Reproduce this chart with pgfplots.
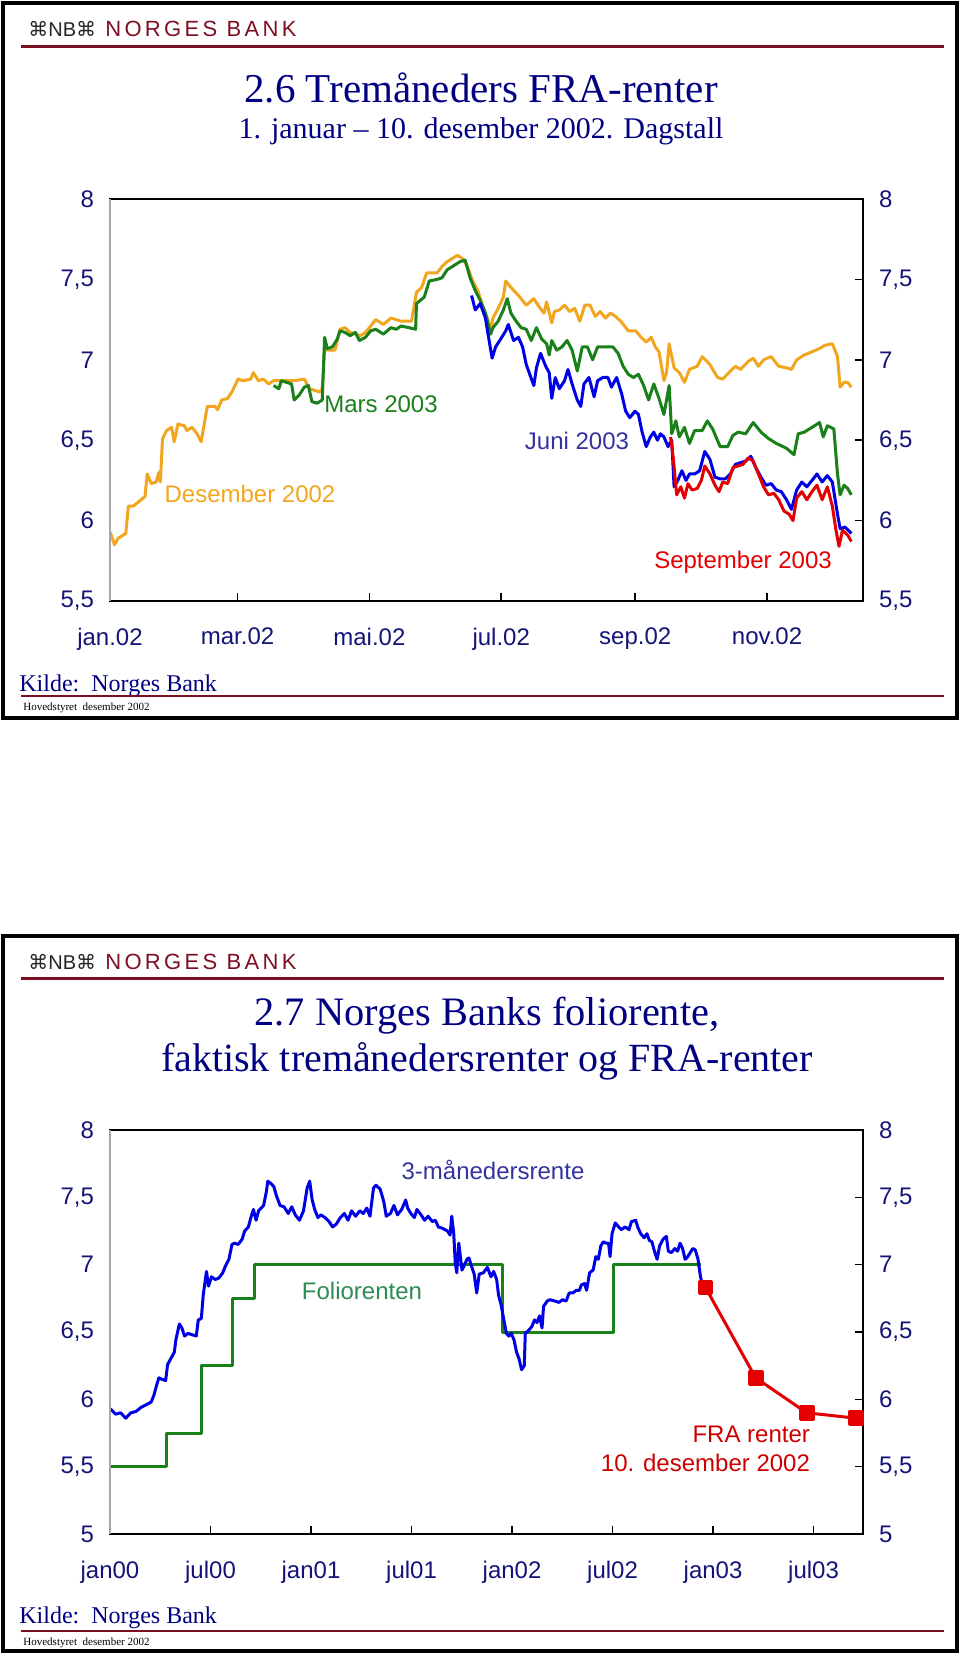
\documentclass[border=0pt]{standalone}
\usepackage{pgfplots}
\pgfplotsset{compat=1.18}
\usepackage{fontspec}
\setmainfont{Liberation Sans}
\newfontfamily\timesf{Liberation Serif}
\newfontfamily\dejavu{DejaVu Sans}
\newfontfamily\nbfont[LetterSpace=15]{Liberation Sans}

\definecolor{navytext}{RGB}{20,20,120}
\definecolor{titlenavy}{RGB}{0,0,128}
\definecolor{nbred}{RGB}{125,15,35}
\definecolor{orangeL}{RGB}{242,166,32}
\definecolor{greenL}{RGB}{26,128,26}
\definecolor{blueL}{RGB}{0,0,230}
\definecolor{redL}{RGB}{228,0,0}
\definecolor{indigoT}{RGB}{51,51,160}
\definecolor{tealT}{RGB}{46,139,87}

\pgfplotsset{
  nbaxis/.style={
    scale only axis, width=376.5pt, anchor=south west,
    axis line style={black, line width=0.75pt},
    tick style={black, line width=0.75pt},
    tick align=inside, major tick length=4pt,
    xtick pos=left, ytick pos=right, yticklabel pos=left,
    ticklabel style={font=\fontsize{12}{14}\selectfont, text=navytext},
    /pgf/number format/assume math mode=true,
    /pgf/number format/use comma,
    yticklabel style={xshift=-4.5pt},
    xticklabel style={yshift=-10pt},
    every axis plot/.append style={line width=1.5pt, line join=round},
  },
  rightlabels/.style={
    scale only axis, width=376.5pt, anchor=south west,
    hide x axis, axis y line*=right,
    axis line style={draw=none}, tick style={draw=none},
    ticklabel style={font=\fontsize{12}{14}\selectfont, text=navytext},
    /pgf/number format/assume math mode=true,
    /pgf/number format/use comma,
    yticklabel style={xshift=4.5pt},
  },
}

\newcommand\nbheader[2]{%
  \node[anchor=west, inner sep=0pt, text=black!85] at (28,#1)
    {\fontsize{10}{12}\selectfont{\dejavu ⌘}NB{\dejavu ⌘}};
  \node[anchor=west, inner sep=0pt, text=nbred] at (105,#1)
    {\fontsize{11}{13}\selectfont\nbfont NORGES BANK};
  \draw[nbred, line width=1.5pt] (21,#2) -- (944,#2);
}
\newcommand\nbfooter[3]{%
  \node[anchor=west, inner sep=0pt, text=titlenavy] at (19,#1)
    {\timesf\fontsize{12}{14}\selectfont Kilde:\ \ Norges Bank};
  \draw[nbred, line width=1pt] (21,#2) -- (944,#2);
  \node[anchor=west, inner sep=0pt, text=black] at (23,#3)
    {\timesf\fontsize{5.5}{7}\selectfont Hovedstyret\ \ desember 2002};
}

\begin{document}
\begin{tikzpicture}
\useasboundingbox (0,0) rectangle (480pt,-827pt);

\begin{scope}[x=0.5pt,y=-0.5pt]
  % upper slide
  \draw[line width=2pt] (3,3) rectangle (957,718);
  \nbheader{29}{46}
  \node[text=titlenavy] at (481,88)
    {\timesf\fontsize{20.5}{24}\selectfont 2.6 Tremåneders FRA-renter};
  \node[text=titlenavy] at (481,131)
    {\timesf\fontsize{15}{18}\selectfont 1. januar – 10. desember 2002. Dagstall};
  \nbfooter{686}{696}{708}
  % lower slide
  \draw[line width=2pt] (3,936) rectangle (957,1651);
  \nbheader{962}{978}
  \node[text=titlenavy] at (487,1016)
    {\timesf\fontsize{20.2}{24}\selectfont 2.7 Norges Banks foliorente,};
  \node[text=titlenavy] at (487,1061)
    {\timesf\fontsize{20}{24}\selectfont faktisk tremånedersrenter og FRA-renter};
  \nbfooter{1618}{1631}{1643}
\end{scope}

% ---------- 2.6: FRA-renter 2002, days since 1 Jan 2002 ----------
\begin{axis}[nbaxis, at={(55pt,-300.5pt)}, height=201pt,
  xmin=0, xmax=348.4, ymin=5.5, ymax=8,
  xtick={0,59,120,181,243,304},
  xticklabels={jan.02,mar.02,mai.02,jul.02,sep.02,nov.02},
  ytick={5.5,6,6.5,7,7.5,8}]
% Desember 2002
\addplot[orangeL] coordinates {
(0,5.93)(2.1,5.85)(3.7,5.89)(7.3,5.92)(8.5,6.09)(10.8,6.09)(14.4,6.13)(16.2,6.15)
(17.2,6.29)(19.1,6.23)(21.4,6.24)(22.6,6.30)(23.3,6.24)(24.3,6.51)(26.2,6.56)(28.5,6.58)
(29.7,6.49)(31.4,6.60)(34.4,6.59)(35.6,6.56)(38.0,6.58)(40.3,6.54)(42.2,6.49)(45.0,6.71)
(48.6,6.71)(49.8,6.69)(51.7,6.75)(54.5,6.76)(56.8,6.81)(59.2,6.88)(61.6,6.87)(65.1,6.88)
(66.3,6.92)(68.7,6.87)(71.0,6.88)(73.4,6.85)(75.7,6.87)(80.5,6.87)(85.2,6.87)(89.9,6.88)
(92.3,6.82)(97.0,6.80)(98.2,6.82)(99.3,7.06)(101.7,7.06)(104.1,7.06)(106.4,7.19)(108.8,7.20)
(111.1,7.17)(115.9,7.15)(118.2,7.17)(120.6,7.21)(122.9,7.25)(126.5,7.22)(130.0,7.26)(134.7,7.24)
(139.5,7.24)(141.8,7.42)(144.2,7.45)(146.5,7.54)(151.3,7.54)(153.6,7.58)(156.0,7.61)(158.4,7.63)
(160.7,7.65)(163.1,7.63)(165.4,7.58)(167.8,7.49)(170.2,7.43)(172.5,7.33)(174.9,7.25)(176.1,7.18)
(177.2,7.26)(179.6,7.32)(182.0,7.39)(183.1,7.49)(185.5,7.45)(189.0,7.40)(192.6,7.34)(196.1,7.38)
(198.5,7.33)(200.8,7.29)(202.0,7.36)(204.4,7.23)(205.6,7.30)(207.9,7.31)(210.3,7.34)(212.7,7.30)
(215.0,7.32)(217.4,7.24)(219.7,7.34)(222.1,7.34)(224.5,7.27)(226.8,7.30)(229.2,7.26)(231.5,7.29)
(233.9,7.27)(236.3,7.24)(239.8,7.18)(243.3,7.18)(245.7,7.14)(248.1,7.11)(250.4,7.14)(252.3,7.08)
(254.0,7.05)(256.3,6.87)(257.5,6.92)(258.7,7.10)(261.0,6.95)(263.4,6.92)(265.8,6.86)(268.1,6.94)
(271.7,6.96)(274.0,7.02)(277.6,6.97)(281.1,6.89)(283.5,6.88)(287.0,6.93)(289.4,6.96)(291.7,6.94)
(295.3,6.99)(297.6,7.01)(300.0,6.96)(302.4,7.00)(305.9,7.02)(309.4,6.96)(313.0,6.95)(315.3,6.94)
(317.7,7.00)(321.2,7.03)(324.8,7.05)(328.3,7.07)(330.7,7.09)(334.2,7.10)(336.6,7.02)(337.8,6.83)
(339.6,6.86)(341.3,6.86)(343.0,6.83)
};
% Mars 2003
\addplot[greenL] coordinates {
(75.7,6.84)(78.1,6.82)(79.3,6.87)(81.6,6.86)(84.0,6.85)(85.2,6.75)(87.5,6.78)(89.9,6.83)
(91.8,6.84)(93.4,6.74)(95.8,6.73)(98.2,6.75)(99.3,7.14)(100.5,7.07)(102.9,7.08)(105.2,7.13)
(106.4,7.18)(108.8,7.17)(111.1,7.15)(113.5,7.17)(115.4,7.12)(118.2,7.14)(120.6,7.18)(122.9,7.19)
(126.5,7.16)(130.0,7.20)(132.4,7.19)(134.7,7.21)(138.3,7.20)(141.4,7.19)(141.8,7.35)(145.4,7.39)
(147.7,7.49)(151.3,7.50)(153.6,7.51)(156.0,7.56)(158.4,7.58)(161.9,7.61)(164.3,7.62)(166.6,7.51)
(169.0,7.43)(171.3,7.37)(173.7,7.29)(176.1,7.16)(177.2,7.20)(179.6,7.24)(182.0,7.31)(183.8,7.38)
(185.5,7.29)(187.9,7.24)(190.2,7.20)(192.6,7.19)(194.9,7.12)(197.3,7.20)(199.7,7.13)(202.0,7.10)
(203.2,7.03)(204.4,7.12)(206.7,7.06)(209.1,7.08)(211.5,7.12)(213.8,7.06)(216.2,6.93)(218.5,7.08)
(220.9,7.08)(223.3,7.00)(225.6,7.08)(229.2,7.08)(232.7,7.08)(235.1,7.04)(237.4,6.96)(239.8,6.91)
(242.2,6.89)(244.5,6.91)(246.9,6.84)(249.2,6.75)(251.6,6.85)(254.0,6.76)(256.3,6.66)(258.7,6.84)
(259.9,6.54)(261.8,6.62)(263.4,6.52)(265.8,6.58)(268.1,6.48)(270.5,6.56)(274.0,6.56)(276.4,6.62)
(278.8,6.57)(282.3,6.46)(285.8,6.46)(288.2,6.53)(290.6,6.55)(294.1,6.54)(297.6,6.61)(301.2,6.55)
(304.7,6.51)(308.3,6.48)(313.0,6.45)(316.5,6.41)(318.4,6.54)(321.2,6.55)(323.6,6.57)(326.0,6.59)
(328.3,6.61)(330.0,6.52)(331.9,6.59)(334.9,6.57)(336.6,6.29)(337.8,6.16)(339.6,6.22)(341.3,6.20)
(343.0,6.16)
};
% Juni 2003
\addplot[blueL] coordinates {
(167.3,7.40)(169.0,7.31)(171.3,7.35)(173.7,7.26)(174.9,7.16)(176.8,7.01)(178.4,7.08)(180.8,7.13)
(183.1,7.18)(184.3,7.22)(186.7,7.12)(189.0,7.14)(190.9,7.08)(192.6,6.97)(194.2,6.91)(196.1,6.84)
(197.3,6.95)(199.2,7.04)(201.6,6.96)(203.2,6.92)(204.4,6.76)(206.0,6.89)(207.9,6.82)(210.3,6.87)
(211.9,6.94)(213.8,6.85)(216.2,6.75)(217.8,6.71)(219.3,6.85)(221.6,6.89)(224.0,6.77)(225.6,6.87)
(228.0,6.89)(230.4,6.89)(232.0,6.83)(234.4,6.89)(236.7,6.79)(238.6,6.68)(240.5,6.64)(242.9,6.68)
(244.5,6.66)(246.2,6.55)(248.1,6.46)(250.0,6.52)(251.6,6.55)(253.3,6.50)(254.7,6.54)(256.3,6.52)
(258.2,6.46)(259.9,6.50)(261.0,6.21)(262.7,6.25)(264.6,6.31)(266.5,6.25)(268.1,6.29)(270.5,6.29)
(272.8,6.31)(275.2,6.43)(277.6,6.38)(279.9,6.27)(282.3,6.26)(284.7,6.26)(287.0,6.29)(289.4,6.35)
(291.7,6.36)(294.1,6.37)(296.5,6.40)(298.8,6.33)(301.2,6.27)(303.5,6.22)(305.9,6.23)(308.3,6.19)
(310.6,6.18)(313.0,6.13)(315.3,6.07)(317.7,6.19)(320.1,6.24)(322.4,6.21)(324.8,6.25)(327.1,6.29)
(329.5,6.24)(331.9,6.28)(334.2,6.24)(336.6,6.04)(337.8,5.95)(340.1,5.96)(343.0,5.92)
};
% September 2003
\addplot[redL] coordinates {
(259.4,6.52)(260.6,6.39)(262.2,6.16)(264.1,6.21)(265.8,6.14)(267.4,6.23)(269.3,6.19)(271.7,6.20)
(273.6,6.25)(275.2,6.34)(277.6,6.29)(279.9,6.22)(281.8,6.18)(283.5,6.24)(285.8,6.23)(288.2,6.33)
(290.6,6.34)(292.9,6.35)(295.3,6.39)(297.6,6.37)(300.0,6.29)(302.4,6.21)(304.7,6.16)(307.1,6.17)
(309.4,6.13)(311.8,6.06)(314.2,6.04)(316.0,6.00)(317.7,6.14)(320.1,6.18)(322.4,6.13)(324.8,6.18)
(327.1,6.22)(329.5,6.13)(331.9,6.21)(334.2,6.09)(335.9,5.94)(337.3,5.84)(338.9,5.94)(341.3,5.91)
(343.0,5.87)
};
\end{axis}
\begin{axis}[rightlabels, at={(55pt,-300.5pt)}, height=201pt,
  xmin=0, xmax=348.4, ymin=5.5, ymax=8, ytick={5.5,6,6.5,7,7.5,8}]
\end{axis}

% ---------- 2.7: foliorente, months since Jan 2000 ----------
\begin{axis}[nbaxis, at={(55pt,-767pt)}, height=202pt,
  xmin=0, xmax=44.95, ymin=5, ymax=8,
  xtick={0,6,12,18,24,30,36,42},
  xticklabels={jan00,jul00,jan01,jul01,jan02,jul02,jan03,jul03},
  ytick={5,5.5,6,6.5,7,7.5,8}]
% Foliorenten
\addplot[greenL, const plot] coordinates {
(0,5.5)(3.4,5.75)(5.45,6.25)(7.3,6.75)(8.65,7.0)(23.4,6.5)(30.05,7.0)(35.3,7.0)
};
% 3-maanedersrente
\addplot[blueL] coordinates {
(0.02,5.93)(0.33,5.89)(0.63,5.90)(0.94,5.86)(1.24,5.90)(1.55,5.91)(1.85,5.94)(2.16,5.96)
(2.46,5.98)(2.62,6.03)(2.77,6.10)(2.92,6.16)(3.07,6.15)(3.32,6.14)(3.44,6.26)(3.62,6.30)
(3.84,6.35)(3.93,6.44)(4.14,6.56)(4.29,6.53)(4.45,6.47)(4.66,6.49)(4.90,6.48)(5.15,6.47)
(5.27,6.59)(5.45,6.60)(5.57,6.78)(5.76,6.95)(5.88,6.84)(6.06,6.91)(6.28,6.89)(6.49,6.90)
(6.73,6.94)(6.89,6.99)(7.10,7.04)(7.28,7.15)(7.44,7.16)(7.65,7.15)(7.89,7.19)(8.04,7.25)
(8.26,7.28)(8.41,7.35)(8.56,7.41)(8.72,7.33)(8.87,7.40)(9.17,7.44)(9.33,7.54)(9.42,7.62)
(9.63,7.60)(9.78,7.58)(9.94,7.51)(10.15,7.44)(10.39,7.43)(10.64,7.38)(10.85,7.43)(11.06,7.37)
(11.31,7.33)(11.55,7.40)(11.77,7.57)(11.92,7.62)(12.07,7.48)(12.22,7.41)(12.41,7.35)(12.59,7.37)
(12.83,7.35)(13.08,7.32)(13.29,7.28)(13.50,7.30)(13.75,7.35)(13.99,7.38)(14.21,7.33)(14.42,7.40)
(14.66,7.36)(14.91,7.40)(15.12,7.38)(15.33,7.42)(15.52,7.36)(15.73,7.57)(15.88,7.59)(16.13,7.56)
(16.34,7.47)(16.49,7.36)(16.74,7.38)(16.95,7.44)(17.16,7.37)(17.41,7.41)(17.65,7.48)(17.77,7.42)
(17.96,7.38)(18.17,7.35)(18.32,7.41)(18.57,7.37)(18.78,7.33)(18.99,7.36)(19.24,7.32)(19.42,7.33)
(19.60,7.28)(19.85,7.27)(20.15,7.25)(20.30,7.22)(20.40,7.36)(20.52,7.23)(20.61,7.01)(20.70,6.94)
(20.82,7.16)(21.01,6.96)(21.13,6.99)(21.31,7.04)(21.43,7.05)(21.55,7.00)(21.74,6.93)(21.89,6.79)
(22.04,6.93)(22.29,6.94)(22.53,6.98)(22.74,6.91)(22.90,6.95)(23.08,6.89)(23.20,6.77)(23.35,6.70)
(23.51,6.59)(23.66,6.49)(23.81,6.47)(23.96,6.49)(24.12,6.44)(24.27,6.35)(24.42,6.30)(24.57,6.22)
(24.73,6.25)(24.79,6.49)(24.97,6.51)(25.18,6.54)(25.34,6.59)(25.49,6.57)(25.64,6.62)(25.79,6.53)
(25.88,6.69)(26.10,6.73)(26.25,6.74)(26.56,6.73)(26.80,6.72)(27.01,6.74)(27.23,6.73)(27.41,6.79)
(27.62,6.79)(27.84,6.81)(28.02,6.81)(28.14,6.85)(28.33,6.86)(28.45,6.81)(28.63,6.94)(28.84,6.96)
(29.00,7.06)(29.15,7.04)(29.30,7.14)(29.45,7.17)(29.61,7.16)(29.76,7.16)(29.85,7.06)(29.97,7.23)
(30.16,7.31)(30.37,7.28)(30.52,7.26)(30.76,7.28)(30.98,7.26)(31.13,7.32)(31.38,7.33)(31.50,7.28)
(31.68,7.23)(31.89,7.20)(32.05,7.23)(32.20,7.18)(32.35,7.17)(32.50,7.10)(32.66,7.04)(32.81,7.14)
(33.02,7.19)(33.21,7.21)(33.33,7.10)(33.51,7.09)(33.72,7.12)(33.88,7.10)(34.03,7.16)(34.18,7.12)
(34.33,7.04)(34.49,7.06)(34.64,7.09)(34.79,7.12)(34.94,7.11)(35.10,7.04)(35.25,6.91)(35.34,6.86)
};
% FRA-renter 10. desember 2002
\addplot[redL, mark=square*, mark size=3.2pt, mark options={solid}] coordinates {
(35.55,6.83)(38.54,6.16)(41.59,5.90)(44.55,5.86)
};
\end{axis}
\begin{axis}[rightlabels, at={(55pt,-767pt)}, height=202pt,
  xmin=0, xmax=44.95, ymin=5, ymax=8, ytick={5,5.5,6,6.5,7,7.5,8}]
\end{axis}

\begin{scope}[x=0.5pt,y=-0.5pt, every node/.style={font=\fontsize{12}{14.5}\selectfont}]
  \draw[gray!70, line width=0.75pt] (110,199) -- (110,601);
  \draw[gray!70, line width=0.75pt] (110,1130) -- (110,1534);
  \node[text=greenL] at (381,404) {Mars 2003};
  \node[text=indigoT] at (577,441) {Juni 2003};
  \node[text=orangeL] at (250,494) {Desember 2002};
  \node[text=redL] at (743,562) {September 2003};
  \node[text=indigoT] at (493,1170) {3-månedersrente};
  \node[text=tealT] at (362,1291) {Foliorenten};
  \node[text=redL!90!black, anchor=east, align=right] at (817,1449)
    {FRA renter\\10. desember 2002};
\end{scope}
\end{tikzpicture}
\end{document}
